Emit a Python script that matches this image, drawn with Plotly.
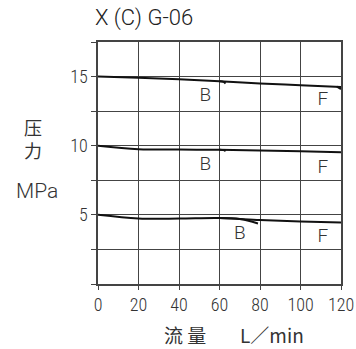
import plotly.graph_objects as go

flow = [0, 20, 40, 60, 80, 100, 120]
p15 = [15.0, 14.92, 14.8, 14.66, 14.5, 14.38, 14.25]
p10 = [10.0, 9.75, 9.72, 9.7, 9.66, 9.6, 9.52]
p5 = [5.0, 4.74, 4.73, 4.77, 4.62, 4.52, 4.45]
hook15_x = [60, 62, 63]
hook15_y = [14.66, 14.62, 14.5]
hook10_x = [60, 62, 63]
hook10_y = [9.7, 9.68, 9.6]
hook5_x = [60, 70, 79]
hook5_y = [4.77, 4.7, 4.38]
end15_x = [118, 120]
end15_y = [14.27, 14.1]
labels_x = [53, 111, 53, 111, 70, 111]
labels_y = [13.6, 13.3, 8.6, 8.35, 3.6, 3.4]
labels_t = ["B", "F", "B", "F", "B", "F"]
x_ticks = [0, 20, 40, 60, 80, 100, 120]
y_ticks = [0, 2.5, 5, 7.5, 10, 12.5, 15, 17.5]
y_ticktext = ["", "", "5", "", "10", "", "15", ""]

fig = go.Figure()
for xs, ys in [(flow, p15), (flow, p10), (flow, p5), (hook15_x, hook15_y),
               (hook10_x, hook10_y), (hook5_x, hook5_y), (end15_x, end15_y)]:
    fig.add_trace(go.Scatter(x=xs, y=ys, mode="lines", line=dict(color="#111", width=2, shape="spline"),
                             showlegend=False, hoverinfo="skip"))
fig.add_trace(go.Scatter(x=labels_x, y=labels_y, mode="text", text=labels_t,
                         textfont=dict(family="Roboto", size=19, color="#333", weight=300), showlegend=False,
                         hoverinfo="skip"))

tickfont = dict(family="Roboto Condensed, Roboto", size=18, color="#333", weight=300)
fig.update_layout(
    template="none",
    width=356, height=349, margin=dict(l=98, r=15, t=42, b=65, autoexpand=False),
    plot_bgcolor="white", paper_bgcolor="white",
    xaxis=dict(range=[0, 120], tickvals=x_ticks, showgrid=True, gridcolor="#444", gridwidth=1,
               showline=True, linecolor="#444", linewidth=1.5, mirror=True, zeroline=False,
               ticks="outside", ticklen=4, tickcolor="#444", tickfont=tickfont, automargin=False),
    yaxis=dict(range=[0, 17.5], tickvals=y_ticks, ticktext=y_ticktext, showgrid=True, gridcolor="#444",
               gridwidth=1, showline=True, linecolor="#444", linewidth=1.5, mirror=True, zeroline=False,
               ticks="outside", ticklen=5, tickcolor="#444", tickfont=tickfont, automargin=False),
)

fig.add_annotation(text="X (C) G-06", xref="paper", yref="paper", x=-0.02, y=1.099, xanchor="left",
                   yanchor="middle", showarrow=False,
                   font=dict(family="Roboto", size=22, color="#222", weight=300))
fig.add_annotation(text="压<br>力", xref="paper", yref="paper", x=-0.267, y=0.60, xanchor="center",
                   yanchor="middle", showarrow=False,
                   font=dict(family="Noto Sans CJK SC", size=18, color="#333"))
fig.add_annotation(text="MPa", xref="paper", yref="paper", x=-0.251, y=0.384, xanchor="center",
                   yanchor="middle", showarrow=False,
                   font=dict(family="Roboto", size=21, color="#333", weight=300))
fig.add_annotation(text="流 量", xref="paper", yref="paper", x=0.358, y=-0.21, xanchor="center",
                   yanchor="middle", showarrow=False, font=dict(family="Noto Sans CJK SC", size=19, color="#333"))
fig.add_annotation(text="L／min", xref="paper", yref="paper", x=0.716, y=-0.21, xanchor="center",
                   yanchor="middle", showarrow=False, font=dict(family="Noto Sans CJK SC", size=19, color="#333"))

fig.write_html("out.html", post_script="document.body.style.margin='0';",
               config={"displayModeBar": False})
